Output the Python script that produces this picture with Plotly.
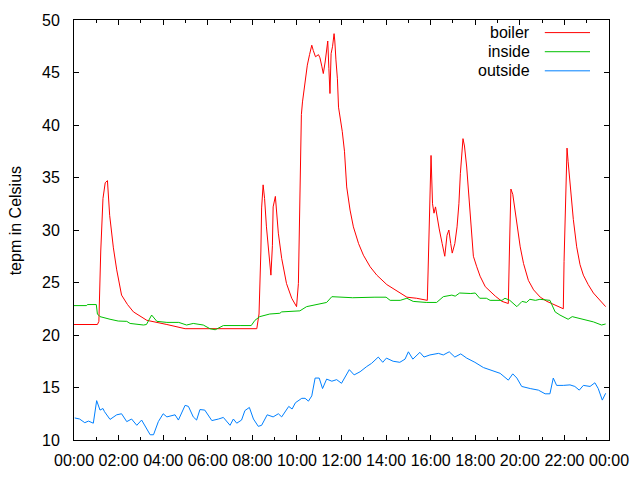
import pandas as pd
import plotly.graph_objects as go

DAY = "2013-01-01"

boiler_times = ["00:00","01:03","01:07","01:12","01:18","01:24","01:30","01:36","01:46","01:55",
    "02:08","02:24","02:40","03:16","04:10","04:59","08:12","08:18","08:23","08:25","08:29","08:33",
    "08:38","08:46","08:50","08:54","08:56","09:02","09:06","09:10","09:19","09:32","09:46","09:59",
    "10:04","10:08","10:11","10:12","10:15","10:19","10:23","10:28","10:34","10:40","10:44","10:50",
    "10:58","11:02","11:07","11:11","11:16","11:20","11:23","11:26","11:29","11:32","11:36","11:40",
    "11:42","11:45","11:49","11:52","11:56","12:02","12:08","12:11","12:14","12:23","12:32","12:46",
    "12:59","13:17","13:35","14:02","14:20","14:38","14:56","15:22","15:51","15:53","15:57","16:01",
    "16:05","16:09","16:13","16:18","16:23","16:31","16:38","16:44","16:49","16:54","16:58","17:05",
    "17:11","17:16","17:20","17:27","17:31","17:37","17:42","17:46","17:51","17:55","18:04","18:13",
    "18:27","18:41","18:54","19:12","19:29","19:32","19:36","19:41","19:47","19:53","20:01","20:10",
    "20:23","20:37","20:55","21:13","21:30","21:57","21:59","22:03","22:07","22:10","22:15","22:24",
    "22:33","22:42","22:51","23:04","23:18","23:36","23:51"]
boiler = [21.0,21.0,21.3,28.0,33.0,34.5,34.7,31.4,28.3,26.2,
    23.8,22.9,22.2,21.4,21.0,20.6,20.6,22.0,28.0,32.1,34.3,33.0,
    30.3,27.1,25.7,28.5,32.2,33.2,31.5,29.7,27.3,24.9,23.5,22.7,
    24.9,33.8,38.1,41.0,42.2,43.3,44.8,45.7,46.7,47.6,47.1,46.5,
    46.7,46.4,45.6,44.9,46.0,47.5,48.0,45.4,43.0,46.8,47.5,48.7,
    48.0,46.2,44.4,41.7,40.8,39.4,37.5,35.4,34.1,31.9,30.3,28.7,
    27.6,26.5,25.7,24.8,24.4,24.0,23.6,23.5,23.3,26.0,33.0,37.1,
    32.5,31.6,32.2,31.0,30.1,28.7,27.5,29.5,30.0,28.7,27.8,28.7,
    30.3,32.5,35.4,38.7,38.0,36.0,33.8,31.3,29.0,27.5,26.5,25.6,
    24.6,24.1,23.7,23.2,23.0,28.0,33.9,33.4,31.9,30.3,28.4,26.8,
    25.2,24.3,23.6,23.2,22.9,22.5,27.0,33.0,37.8,36.5,34.4,31.0,
    28.4,26.7,25.7,24.8,24.0,23.3,22.7]

inside_times = ["00:00","00:34","00:36","01:00","01:03","01:10","01:37","01:59","02:22","02:31",
    "03:07","03:15","03:29","03:43","04:10","04:42","05:03","05:21","05:48","06:06","06:20","06:42",
    "07:27","07:57","08:07","08:20","08:47","09:14","09:19","10:08","10:26","10:53","11:20","11:34",
    "12:30","13:30","14:00","14:11","14:38","14:56","15:13","15:48","16:16","16:34","16:57","17:06",
    "17:18","17:48","18:00","18:12","18:30","18:40","19:12","19:20","19:33","19:52","20:06","20:18",
    "20:27","20:42","20:54","21:21","21:35","21:48","22:10","22:21","22:39","23:00","23:18","23:40",
    "23:51"]
inside = [22.8,22.8,22.9,22.9,22.0,21.75,21.5,21.33,21.3,21.1,
    20.95,21.0,21.9,21.3,21.2,21.2,20.95,21.1,20.95,20.6,20.5,20.9,
    20.9,20.9,21.4,21.75,22.0,22.07,22.2,22.3,22.7,22.9,23.1,23.65,
    23.55,23.6,23.6,23.3,23.3,23.5,23.2,23.1,23.1,23.65,23.8,23.7,
    24.0,23.95,24.0,23.5,23.5,23.3,23.3,23.5,23.3,22.7,23.2,23.1,
    23.4,23.3,23.4,23.3,22.2,21.9,21.5,21.75,21.6,21.4,21.25,20.95,
    21.05]

outside_times = ["00:02","00:15","00:29","00:39","00:52","01:01","01:10","01:18","01:22","01:37",
    "01:55","02:08","02:22","02:35","02:49","03:02","03:25","03:34","03:47","04:00","04:10","04:32",
    "04:41","04:59","05:08","05:21","05:30","05:39","05:52","06:11","06:29","06:42","07:00","07:09",
    "07:18","07:31","07:40","07:52","08:03","08:16","08:25","08:40","08:56","09:10","09:19","09:32",
    "09:38","09:47","09:56","10:13","10:22","10:31","10:40","10:49","11:00","11:09","11:20","11:34",
    "11:47","12:00","12:21","12:34","12:50","13:08","13:21","13:39","13:51","14:01","14:19","14:37",
    "14:51","15:00","15:12","15:31","15:42","15:58","16:21","16:34","16:50","17:05","17:21","17:37",
    "17:59","18:22","18:44","19:07","19:29","19:41","19:52","20:05","20:28","20:50","21:08","21:21",
    "21:30","21:39","21:57","22:15","22:28","22:40","22:51","23:09","23:22","23:31","23:42","23:51"]
outside = [12.1,12.0,11.65,11.8,11.6,13.75,12.85,13.0,12.7,11.96,
    12.4,12.5,11.75,12.0,11.4,11.9,10.5,10.5,11.75,12.5,12.2,12.4,
    11.9,13.3,13.2,12.2,11.9,12.9,12.85,11.85,12.0,12.15,11.4,12.0,
    11.6,11.9,12.8,13.1,12.0,11.3,11.4,12.4,12.2,12.5,12.2,12.85,
    13.2,12.95,13.55,13.97,13.97,13.7,14.2,15.9,15.9,14.9,15.8,15.6,
    15.75,15.4,16.7,16.2,16.5,17.0,17.3,17.9,17.4,17.8,17.5,17.4,
    17.7,18.4,17.7,18.35,17.9,18.1,18.25,18.1,18.4,17.9,18.2,17.8,
    17.4,16.9,16.6,16.35,15.7,16.3,15.9,15.1,14.9,14.75,14.4,14.4,
    15.9,15.2,15.2,15.25,15.1,14.75,15.2,15.1,15.45,14.9,13.8,14.45]

series_names = ["boiler", "inside", "outside"]
series_colors = ["#ff0000", "#00c000", "#0080ff"]
y_title = "tepm in Celsius"


def to_dt(times):
    return pd.to_datetime([f"{DAY} {t}" for t in times])


FONT = "Liberation Sans, Arial, sans-serif"

fig = go.Figure()
for name, times, vals, col in zip(series_names,
                                  [boiler_times, inside_times, outside_times],
                                  [boiler, inside, outside], series_colors):
    fig.add_trace(go.Scatter(x=to_dt(times), y=vals, mode="lines", name=name,
                             line=dict(color=col, width=1), showlegend=False))

# gnuplot-style legend: right-aligned text with line sample to the right
leg_y = [0.970, 0.9245, 0.879]
for name, col, yy in zip(series_names, series_colors, leg_y):
    fig.add_annotation(xref="paper", yref="paper", x=0.8555, y=yy, text=name,
                       showarrow=False, xanchor="right", yanchor="middle",
                       font=dict(family=FONT, size=16, color="black"))
    fig.add_shape(type="line", xref="paper", yref="paper", x0=0.880, x1=0.9645,
                  y0=yy, y1=yy, line=dict(color=col, width=1))

fig.add_annotation(xref="paper", yref="paper", x=-0.110, y=0.521, text=y_title,
                   textangle=-90, showarrow=False, xanchor="center", yanchor="middle",
                   font=dict(family=FONT, size=16, color="black"))

fig.update_layout(
    width=640, height=480,
    margin=dict(l=74, r=31, t=20, b=40),
    paper_bgcolor="white", plot_bgcolor="white",
    font=dict(family=FONT, size=16, color="black"),
    xaxis=dict(
        type="date",
        range=[f"{DAY} 00:00", "2013-01-02 00:00"],
        dtick=7200000, tick0=f"{DAY} 00:00", tickformat="%H:%M",
        ticks="inside", ticklen=5, tickcolor="black", tickwidth=1,
        minor=dict(dtick=3600000, ticks="inside", ticklen=3, tickcolor="black", showgrid=False),
        showline=True, linecolor="black", linewidth=1, mirror="ticks",
        showgrid=False, zeroline=False, ticklabelstandoff=6,
    ),
    yaxis=dict(
        range=[10, 50], dtick=5,
        ticks="inside", ticklen=5, tickcolor="black", tickwidth=1,
        showline=True, linecolor="black", linewidth=1, mirror="ticks",
        showgrid=False, zeroline=False, ticklabelstandoff=10,
    ),
)

fig.write_html("out.html", config={"displayModeBar": False},
               post_script="document.body.style.margin='0';")
